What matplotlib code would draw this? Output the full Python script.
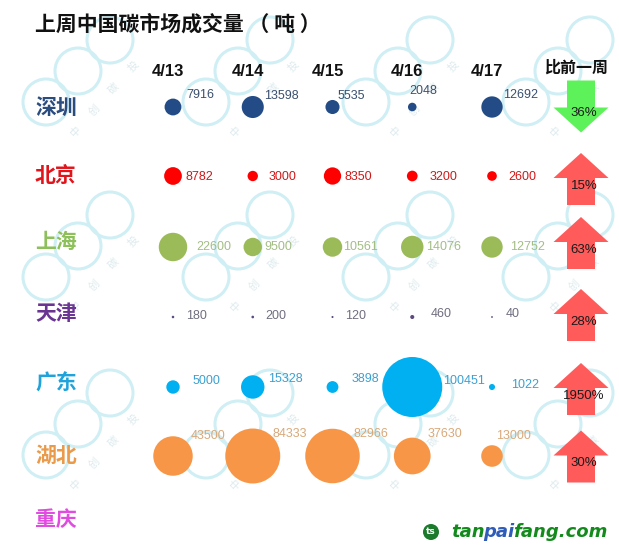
import numpy as np
import matplotlib
matplotlib.use("Agg")
import matplotlib.pyplot as plt
from matplotlib.patches import FancyArrow, Circle

# ---------------- data ----------------
title = "上周中国碳市场成交量 （ 吨 ）"
regions = ["深圳", "北京", "上海", "天津", "广东", "湖北", "重庆"]
dates = ["4/13", "4/14", "4/15", "4/16", "4/17"]
change_header = "比前一周"
shenzhen = [7916, 13598, 5535, 2048, 12692]
beijing = [8782, 3000, 8350, 3200, 2600]
shanghai = [22600, 9500, 10561, 14076, 12752]
tianjin = [180, 200, 120, 460, 40]
guangdong = [5000, 15328, 3898, 100451, 1022]
hubei = [43500, 84333, 82966, 37630, 13000]
chongqing = []
week_change = [-36, 15, 63, 28, 1950, 30, None]   # percent vs previous week

series = [shenzhen, beijing, shanghai, tianjin, guangdong, hubei, chongqing]

# ---------------- styles / layout ----------------
label_colors = ["#2B4C7E", "#E2141B", "#8DC05A", "#6A3592", "#1FA3DA", "#E99A4B", "#E04BE0"]
bubble_colors = ["#234C86", "#FF0000", "#9BBB59", "#5E4A7E", "#00B0F0", "#F79646", "#E04BE0"]
value_colors = ["#3A4F6E", "#D01818", "#A3BD85", "#6E6E7E", "#3CA0D0", "#D8A97A", "#E04BE0"]

# data-label offsets (pixels) relative to each bubble centre
label_dx = [[13, 11, 5, -3, 11],
            [12, 16, 12, 17, 16],
            [23, 12, 11, 14, 18],
            [13, 13, 13, 18, 14],
            [20, 15, 19, 31, 19],
            [18, 20, 21, 15, 4]]
label_dy = [[-12, -11, -11, -16, -12],
            [1, 1, 1, 1, 1],
            [0, 0, 0, 0, 0],
            [-1, -1, -1, -3, -3],
            [-6, -8, -8, -6, -2],
            [-20, -22, -22, -22, -20]]

W, H = 619, 552
fig = plt.figure(figsize=(W / 100, H / 100), dpi=100)
ax = fig.add_axes([0, 0, 1, 1])
ax.set_xlim(0, W)
ax.set_ylim(H, 0)
ax.axis("off")

CJK = ["Noto Sans CJK SC", "DejaVu Sans"]

# ---------------- watermark ----------------
wm_color = "#CFEFF5"
for cy in [40, 215, 393]:
    for cx in [110, 270, 430, 590]:
        for k in range(3):
            ax.add_patch(Circle((cx - 32 * k, cy + 31 * k), 23, fill=False,
                                ec=wm_color, lw=2.2, zorder=0))
        for k, ch in enumerate("中创碳投"):
            tx, ty = cx - 34 + 19 * k, cy + 92 - 22 * k
            if 8 < tx < 604 and 8 < ty < 540:
                ax.text(tx, ty, ch, fontsize=7.5, color="#DCEAEE", rotation=45,
                        ha="center", va="center", family=CJK, zorder=0)

# ---------------- title & headers ----------------
ax.text(35, 24, title, fontsize=15, fontweight="bold", family=CJK,
        ha="left", va="center", color="#111111")

col_x = np.linspace(173, 492, len(dates))
for x, d in zip(col_x, dates):
    ax.text(x - 5, 71, d, fontsize=12, fontweight="bold", family="Liberation Sans",
            ha="center", va="center", color="#111111")
ax.text(576, 68, change_header, fontsize=11.5, fontweight="bold", family=CJK,
        ha="center", va="center", color="#111111")

# ---------------- rows ----------------
row_y = [107, 176, 247, 317, 387, 456, 520]
label_y = [107, 176, 241, 313, 383, 455, 520]
K = 60 / np.sqrt(max(max(s) for s in series if s))  # px diameter per sqrt(ton)

for i, (name, vals) in enumerate(zip(regions, series)):
    ax.text(35, label_y[i], name, fontsize=15, fontweight="bold", family=CJK,
            ha="left", va="center", color=label_colors[i])
    if not vals:
        continue
    v = np.array(vals, dtype=float)
    d_px = np.maximum(K * np.sqrt(v), 1.8)
    ax.scatter(col_x, [row_y[i]] * len(v), s=(d_px * 0.72) ** 2,
               color=bubble_colors[i], edgecolors="none", zorder=3)
    for j, (x, val) in enumerate(zip(col_x, vals)):
        ax.text(x + label_dx[i][j], row_y[i] + label_dy[i][j], f"{val}",
                fontsize=9, family="Liberation Sans", ha="left", va="center",
                color=value_colors[i], zorder=4)

# ---------------- change arrows ----------------
arrow_center = [106.5, 179, 243, 315, 389, 456.5]
AX = 581
for i, ch in enumerate(week_change):
    if ch is None:
        continue
    c = arrow_center[i]
    L = 52
    if ch < 0:
        arr = FancyArrow(AX, c - L / 2, 0, L, width=28, head_width=55, head_length=25,
                         length_includes_head=True, fc="#5EF25A", ec="none", zorder=5)
    else:
        arr = FancyArrow(AX, c + L / 2, 0, -L, width=28, head_width=55, head_length=25,
                         length_includes_head=True, fc="#FF5B5B", ec="none", zorder=5)
    ax.add_patch(arr)
    ax.text(AX + 3, c + 7, f"{abs(ch)}%", fontsize=9.5, family="Liberation Sans",
            ha="center", va="center", color="#1a1a1a", zorder=6)

# ---------------- logo ----------------
ax.add_patch(Circle((431, 532), 8, fc="#1B7A2B", ec="none", zorder=5))
ax.text(431, 532, "ts", fontsize=6.5, fontweight="bold", color="white",
        ha="center", va="center", zorder=6)
fig.canvas.draw()
renderer = fig.canvas.get_renderer()
x0 = 451
for part, col in [("tan", "#138A1C"), ("pai", "#2E5CB8"), ("fang.com", "#138A1C")]:
    t = ax.text(x0, 532, part, fontsize=13, fontweight="bold", fontstyle="italic",
                family="DejaVu Sans", color=col, ha="left", va="center", zorder=6)
    bb = t.get_window_extent(renderer=renderer)
    x0 += bb.width - 1.5

fig.savefig("out.png", dpi=100, facecolor="white")
